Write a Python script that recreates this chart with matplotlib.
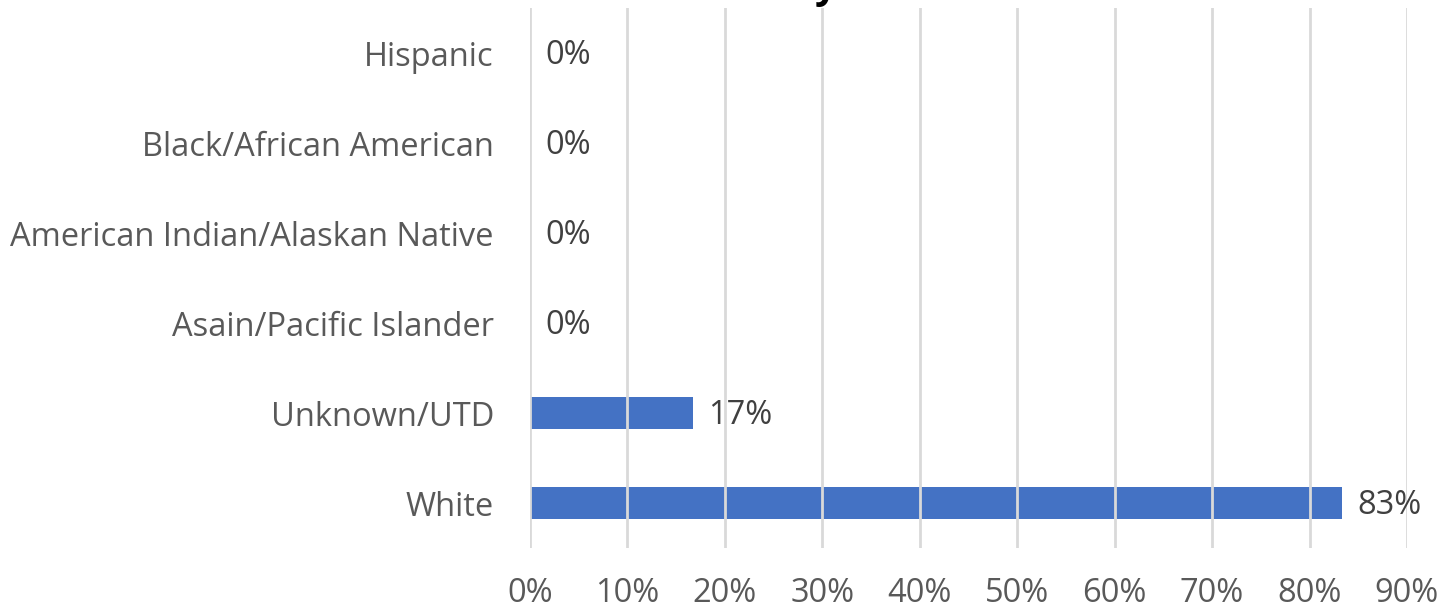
import matplotlib
matplotlib.use("Agg")
import matplotlib.pyplot as plt
import matplotlib.ticker as mticker

# data
categories = ["White", "Unknown/UTD", "Asain/Pacific Islander",
              "American Indian/Alaskan Native", "Black/African American", "Hispanic"]
values = [83.3, 16.7, 0, 0, 0, 0]
x_ticks = [0, 10, 20, 30, 40, 50, 60, 70, 80, 90]

plt.rcParams['font.family'] = ['Open Sans', 'DejaVu Sans']

fig = plt.figure(figsize=(14.54, 6.10), dpi=100)
ax = fig.add_axes([530 / 1454, 1 - 548 / 610, 877 / 1454, 540 / 610])

ypos = list(range(len(categories)))
ax.barh(ypos, values, height=0.36, color="#4472C4", zorder=2)

ax.set_xlim(0, 90)
ax.set_ylim(-0.5, len(categories) - 0.5)
ax.set_xticks(x_ticks)
ax.xaxis.set_major_formatter(mticker.FuncFormatter(lambda v, p: "%d%%" % v))
ax.set_yticks(ypos)
ax.set_yticklabels(categories)

ax.grid(axis="x", color="#d9d9d9", linewidth=2, zorder=3)
ax.set_axisbelow(False)
for s in ax.spines.values():
    s.set_visible(False)
ax.tick_params(axis="both", length=0, labelsize=23.5, labelcolor="#595959")
ax.tick_params(axis="y", pad=26)
ax.tick_params(axis="x", pad=21)

# data labels
for y, v in zip(ypos, values):
    ax.annotate("%.0f%%" % v, (v, y), xytext=(11, -2), textcoords="offset points",
                ha="left", va="center", fontsize=23.5, color="#404040")

# title mostly cut off at top of the image (as in the reference)
fig.text(838 / 1454, 1 + 2 / 610, "Race/Ethnicity", ha="right", va="baseline",
         fontsize=28, fontweight="bold", color="black")

fig.savefig("out.png", dpi=100)
